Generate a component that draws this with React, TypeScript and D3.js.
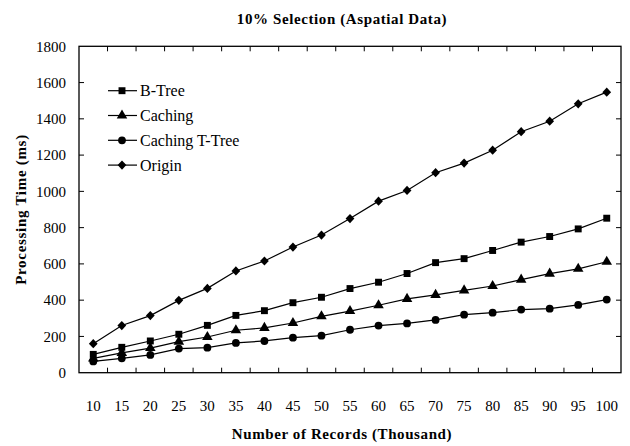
import React, { useEffect, useRef } from "react";
import * as d3 from "d3";

// thousands of records
const categories = ["10", "15", "20", "25", "30", "35", "40", "45", "50", "55", "60", "65", "70", "75", "80", "85", "90", "95", "100"];

// processing time (ms)
const bTree = [101, 140, 175, 212, 261, 316, 342, 386, 416, 464, 499, 547, 607, 629, 674, 720, 751, 793, 852];
const caching = [79, 109, 136, 171, 197, 234, 247, 274, 311, 340, 372, 407, 429, 454, 478, 513, 546, 573, 612];
const cachingTTree = [62, 79, 98, 133, 138, 164, 175, 193, 204, 237, 260, 272, 291, 320, 331, 348, 353, 374, 403];
const origin = [160, 260, 315, 399, 465, 561, 616, 693, 759, 850, 946, 1005, 1103, 1156, 1227, 1329, 1387, 1483, 1547];

const yTicks = [0, 200, 400, 600, 800, 1000, 1200, 1400, 1600, 1800];

const seriesNames = ["B-Tree", "Caching", "Caching T-Tree", "Origin"];
const seriesValues = [bTree, caching, cachingTTree, origin];
const seriesSymbols = [d3.symbolSquare, d3.symbolTriangle, d3.symbolCircle, d3.symbolDiamond];
const symbolSizes = [48, 48, 48, 50];

const FONT = "Liberation Serif";

// d3's diamond is tall and thin, the original one is squatter
const markScale = (s: number) => (s === 3 ? " scale(1.15,0.7)" : "");

export default function App() {
  const ref = useRef<SVGSVGElement>(null);

  useEffect(() => {
    const width = 630,
      height = 446;
    const margin = { top: 46.3, right: 9, bottom: 73.3, left: 79 };
    const w = width - margin.left - margin.right,
      h = height - margin.top - margin.bottom;

    const svg = d3.select(ref.current).attr("width", width).attr("height", height);
    svg.selectAll("*").remove();

    const g = svg.append("g").attr("transform", `translate(${margin.left},${margin.top})`);

    const x = d3.scaleBand().domain(categories).range([0, w]).padding(0);
    const y = d3.scaleLinear().domain([0, 1800]).range([h, 0]);

    // frame
    g.append("rect")
      .attr("width", w)
      .attr("height", h)
      .attr("fill", "none")
      .attr("stroke", "#000")
      .attr("stroke-width", 1.3);

    // inward ticks, left and right
    yTicks.slice(1, -1).forEach((t) => {
      g.append("line").attr("x1", 0).attr("x2", 5).attr("y1", y(t)).attr("y2", y(t)).attr("stroke", "#000");
      g.append("line").attr("x1", w).attr("x2", w - 5).attr("y1", y(t)).attr("y2", y(t)).attr("stroke", "#000");
    });
    // category boundaries, top and bottom
    categories.slice(1).forEach((c) => {
      const bx = x(c)!;
      g.append("line").attr("x1", bx).attr("x2", bx).attr("y1", 0).attr("y2", 5).attr("stroke", "#000");
      g.append("line").attr("x1", bx).attr("x2", bx).attr("y1", h).attr("y2", h - 5).attr("stroke", "#000");
    });

    g.selectAll(".ylab")
      .data(yTicks)
      .join("text")
      .attr("class", "ylab")
      .attr("x", -13)
      .attr("y", (d) => y(d))
      .attr("dy", "0.35em")
      .attr("text-anchor", "end")
      .style("font-family", FONT)
      .style("font-size", "15px")
      .text((d) => d);

    g.selectAll(".xlab")
      .data(categories)
      .join("text")
      .attr("class", "xlab")
      .attr("x", (d) => x(d)! + x.bandwidth() / 2)
      .attr("y", h + 33)
      .attr("dy", "0.35em")
      .attr("text-anchor", "middle")
      .style("font-family", FONT)
      .style("font-size", "15px")
      .text((d) => d);

    const line = d3
      .line<number>()
      .x((d, i) => x(categories[i])! + x.bandwidth() / 2)
      .y((d) => y(d));

    seriesValues.forEach((vals, s) => {
      g.append("path").attr("d", line(vals)).attr("fill", "none").attr("stroke", "#000").attr("stroke-width", 1.2);
      g.selectAll(".m" + s)
        .data(vals)
        .join("path")
        .attr("class", "m" + s)
        .attr("transform", (d, i) => `translate(${x(categories[i])! + x.bandwidth() / 2},${y(d)})${markScale(s)}`)
        .attr("d", d3.symbol().type(seriesSymbols[s]).size(symbolSizes[s]))
        .attr("fill", "#000");
    });

    // legend
    const leg = svg.append("g").attr("transform", "translate(108,90.7)");
    seriesNames.forEach((name, s) => {
      const row = leg.append("g").attr("transform", `translate(0,${s * 24.8})`);
      row.append("line").attr("x1", 0).attr("x2", 29).attr("stroke", "#000").attr("stroke-width", 1.2);
      row.append("path")
        .attr("transform", `translate(14,0)${markScale(s)}`)
        .attr("d", d3.symbol().type(seriesSymbols[s]).size(symbolSizes[s]))
        .attr("fill", "#000");
      row.append("text")
        .attr("x", 32)
        .attr("dy", "0.35em")
        .style("font-family", FONT)
        .style("font-size", "16px")
        .text(name);
    });

    // titles (bold, slightly spaced out like the original)
    svg.append("text")
      .attr("x", 342)
      .attr("y", 19)
      .attr("dy", "0.35em")
      .attr("text-anchor", "middle")
      .style("font-family", FONT)
      .style("font-weight", "bold")
      .style("font-size", "15px")
      .style("letter-spacing", "0.6px")
      .text("10% Selection (Aspatial Data)");

    svg.append("text")
      .attr("x", 342)
      .attr("y", 434)
      .attr("dy", "0.35em")
      .attr("text-anchor", "middle")
      .style("font-family", FONT)
      .style("font-weight", "bold")
      .style("font-size", "15px")
      .style("letter-spacing", "0.6px")
      .text("Number of Records (Thousand)");

    svg.append("text")
      .attr("transform", `translate(21,${margin.top + h / 2}) rotate(-90)`)
      .attr("dy", "0.35em")
      .attr("text-anchor", "middle")
      .style("font-family", FONT)
      .style("font-weight", "bold")
      .style("font-size", "15px")
      .style("letter-spacing", "0.7px")
      .text("Processing Time (ms)");
  }, []);

  return (
    <svg ref={ref} style={{ position: "absolute", left: 0, top: 0, display: "block" }}></svg>
  );
}
